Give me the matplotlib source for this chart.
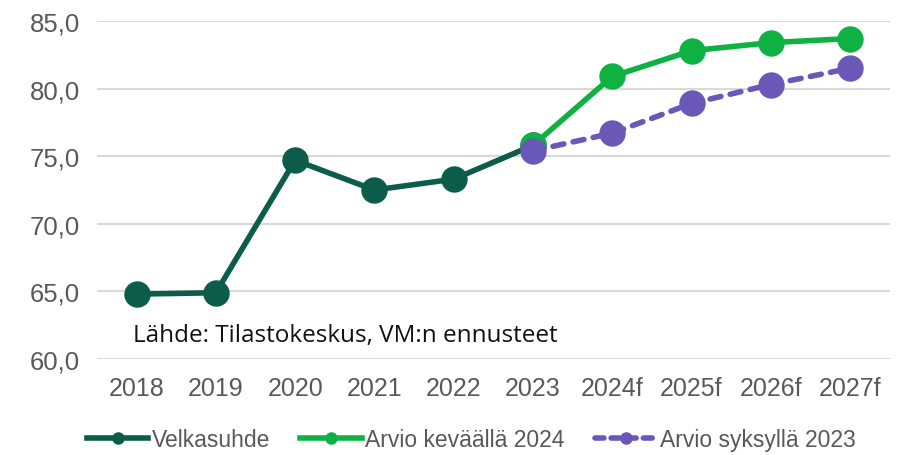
import matplotlib.pyplot as plt
from matplotlib.lines import Line2D
from matplotlib.ticker import FuncFormatter

years = ["2018", "2019", "2020", "2021", "2022", "2023", "2024f", "2025f", "2026f", "2027f"]
velkasuhde = [64.8, 64.9, 74.7, 72.5, 73.3, 75.8]
kevat_2024 = [75.8, 80.9, 82.8, 83.4, 83.7]
syksy_2023 = [75.4, 76.7, 78.9, 80.3, 81.5]

c_dark = "#0b5c49"
c_green = "#10b143"
c_purple = "#6a58b8"

x = list(range(len(years)))

fig = plt.figure(figsize=(9.06, 4.56), dpi=100)
ax = fig.add_axes([0.107, 0.2105, 0.875, 0.7413])

ax.plot(x[:6], velkasuhde, color=c_dark, lw=4, marker="o", ms=18, zorder=3)
ax.plot(x[5:], kevat_2024, color=c_green, lw=4, marker="o", ms=18, zorder=4)
ax.plot(x[5:], syksy_2023, color=c_purple, lw=4, marker="o", ms=18,
        ls=(0, (2.0, 1.7)), dash_capstyle="round", zorder=5)

ax.set_xlim(-0.5, len(years) - 0.5)
ax.set_ylim(60, 85)
ax.set_yticks([60, 65, 70, 75, 80, 85])
ax.yaxis.set_major_formatter(FuncFormatter(lambda v, p: f"{v:.1f}".replace(".", ",")))
ax.set_xticks(x)
ax.set_xticklabels(years)
ax.grid(axis="y", color="#d9d9d9", lw=1.5, zorder=0)
ax.set_axisbelow(True)
for s in ax.spines.values():
    s.set_visible(False)
ax.tick_params(length=0, labelcolor="#595959")
ax.tick_params(axis="x", labelsize=18, pad=12)
ax.tick_params(axis="y", labelsize=18.5, pad=12)
for lab in ax.get_xticklabels() + ax.get_yticklabels():
    lab.set_family("Liberation Sans")

ax.text(-0.04, 61.75, "Lähde: Tilastokeskus, VM:n ennusteet", fontsize=17.5,
        family="Open Sans", color="#111111", ha="left", va="center")

handles = [
    Line2D([], [], color=c_dark, lw=4, marker="o", ms=8),
    Line2D([], [], color=c_green, lw=4, marker="o", ms=8),
    Line2D([], [], color=c_purple, lw=4, marker="o", ms=8, ls=(0, (1.6, 1.3)),
           dash_capstyle="round"),
]
leg = fig.legend(handles, ["Velkasuhde", "Arvio keväällä 2024", "Arvio syksyllä 2023"],
                 loc="center", bbox_to_anchor=(0.52, 0.035), ncol=3, frameon=False,
                 handlelength=2.7, handletextpad=0.15, columnspacing=1.3,
                 prop={"family": "Liberation Sans", "size": 16.5})
for t in leg.get_texts():
    t.set_color("#595959")

fig.savefig("out.png", dpi=100)
